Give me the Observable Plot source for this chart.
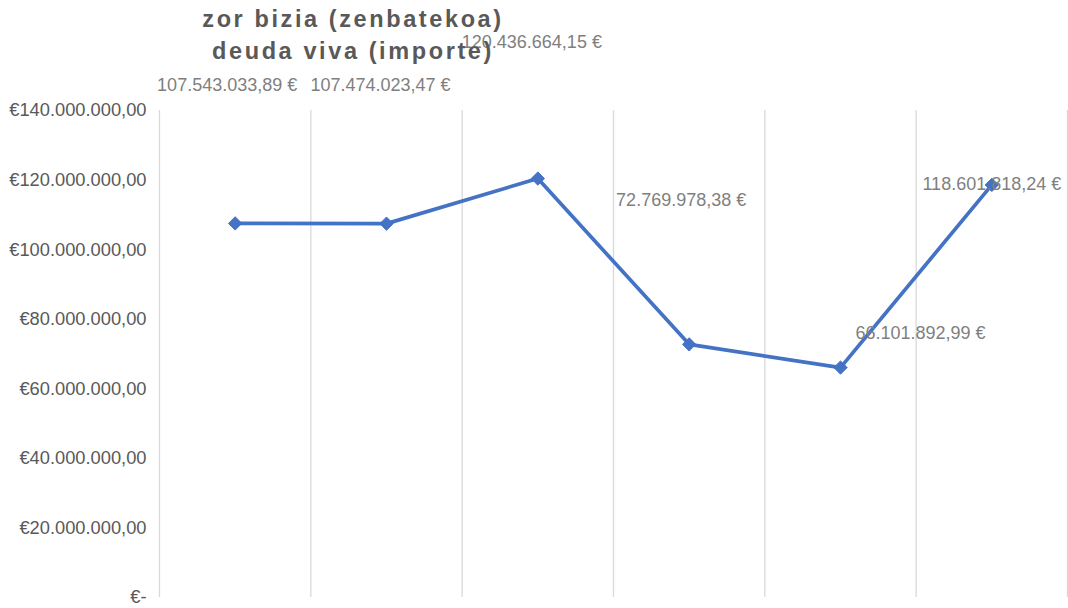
<!DOCTYPE html>
<html>
<head>
<meta charset="utf-8">
<script src="https://cdn.jsdelivr.net/npm/d3@7"></script>
<script src="https://cdn.jsdelivr.net/npm/@observablehq/plot@0.6"></script>
<style>
  html, body { margin: 0; padding: 0; background: #fff; }
  #wrap { position: relative; width: 1068px; height: 608px; }
  #title {
    position: absolute; left: 353px; top: 3px; transform: translateX(-50%);
    font-family: "Liberation Sans", Arial, sans-serif; font-weight: bold;
    font-size: 23.5px; line-height: 32px; letter-spacing: 2.6px; color: #595959;
    text-align: center; white-space: nowrap; z-index: 2;
  }
</style>
</head>
<body>
<div id="wrap">
  <div id="title">zor bizia (zenbatekoa)<br>deuda viva (importe)</div>
  <div id="chart"></div>
</div>
<script>
// Data
const categories = [1, 2, 3, 4, 5, 6];
const values = [107543033.89, 107474023.47, 120436664.15, 72769978.38, 66101892.99, 118601818.24];
const yTicks = [0, 20000000, 40000000, 60000000, 80000000, 100000000, 120000000, 140000000];

const data = categories.map((c, i) => ({cat: c, idx: i + 0.5, value: values[i]}));

const loc = d3.formatLocale({decimal: ",", thousands: ".", grouping: [3], currency: ["€", ""]});
const f2 = loc.format(",.2f");
const tickFmt = v => v === 0 ? "€-" : "€" + f2(v);
const labelFmt = v => f2(v) + " €";

// label placement offsets (style, not data)
const labelOffsets = [[-8, -138], [-6, -138], [-6, -136], [-8, -144], [80, -34], [0, -1]];

const labelMarks = data.map((d, i) => Plot.text([d], {
  x: "idx", y: "value", text: r => labelFmt(r.value),
  dx: labelOffsets[i][0], dy: labelOffsets[i][1],
  fill: "#7f7f7f", fontSize: 18, textAnchor: "middle", lineAnchor: "middle"
}));

const chart = Plot.plot({
  width: 1068,
  height: 608,
  marginLeft: 159,
  marginRight: 1,
  marginTop: 110,
  marginBottom: 11,
  style: {fontFamily: "'Liberation Sans', Arial, sans-serif", background: "#fff", overflow: "visible"},
  x: {domain: [0, categories.length], axis: null},
  y: {domain: [0, 140000000]},
  marks: [
    Plot.ruleX(d3.range(0, categories.length + 1), {x: d => d, y1: 0, y2: 140000000, stroke: "#d9d9d9", strokeWidth: 1.3}),
    Plot.axisY(yTicks, {tickSize: 0, tickPadding: 13, tickFormat: tickFmt, fontSize: 18.3, fill: "#595959", label: null}),
    Plot.line(data, {x: "idx", y: "value", stroke: "#4472C4", strokeWidth: 3.7}),
    Plot.dot(data, {x: "idx", y: "value", symbol: "diamond2", r: 6, fill: "#4472C4", stroke: "#4472C4", strokeWidth: 1}),
    ...labelMarks
  ]
});
document.getElementById("chart").appendChild(chart);
</script>
</body>
</html>
